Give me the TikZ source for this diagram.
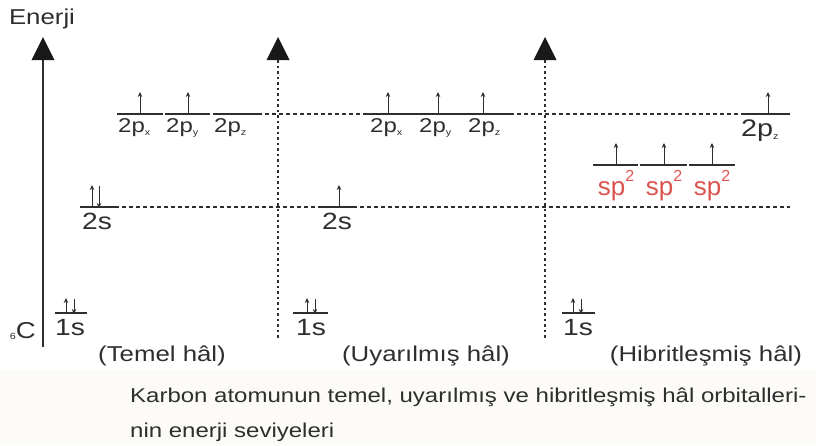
\documentclass[tikz,border=0pt]{standalone}
\usepackage{fontspec}
\setmainfont{Liberation Sans}[FakeStretch=1.2]
\newfontfamily\narrowsans{Liberation Sans}
\usetikzlibrary{arrows.meta}
\definecolor{ink}{HTML}{2E2E2E}
\definecolor{hyb}{HTML}{D9534F}
\definecolor{capbg}{HTML}{FCFBF8}
\newcommand{\fs}[1]{\fontsize{#1}{#1}\selectfont}
\newcommand{\psub}[1]{\raisebox{-3pt}{\fs{9}#1}}
\newcommand{\sptwo}{sp\raisebox{14pt}{\fs{16}2}}
\begin{document}
\begin{tikzpicture}[x=1pt,y=-1pt,
  lvl/.style={draw=ink,line width=1.5pt},
  spin/.style={draw=ink,line width=1pt,-{Stealth[length=5pt,width=4.5pt]}},
  hdash/.style={draw=ink,line width=1.2pt,dash pattern=on 4pt off 3pt},
  vdot/.style={draw=ink,line width=2.2pt,dash pattern=on 2.5pt off 3pt},
  axisline/.style={draw=ink,line width=2.2pt},
  tiphead/.style={fill=black!90},
  lab/.style={inner sep=0pt,text=ink},
  plab/.style={lab,anchor=base west,font=\fs{20}},
  slab/.style={lab,anchor=base,font=\fs{23.5}},
  hlab/.style={inner sep=0pt,anchor=base,text=hyb,font=\narrowsans\fs{26}},
  state/.style={lab,anchor=base,font=\fs{21.5}},
  captext/.style={lab,anchor=base west,font=\fs{20}}
]
\useasboundingbox (0,0) rectangle (816,445);
\fill[capbg] (0,370) rectangle (816,445);

% axes
\coordinate (a1t) at (43,60); \coordinate (a1b) at (43,347);
\coordinate (a2t) at (278,60); \coordinate (a2b) at (278,340);
\coordinate (a3t) at (545,60); \coordinate (a3b) at (545,340);
\draw[axisline] (a1t) -- (a1b);
\draw[vdot] (a2t) -- (a2b);
\draw[vdot] (a3t) -- (a3b);
\foreach \x in {43,278,545}{
  \fill[tiphead] (\x,37) -- (\x+11.5,60) -- (\x-11.5,60) -- cycle;
}

% dashed guide lines
\coordinate (d1a) at (258,114); \coordinate (d1b) at (743,114);
\coordinate (d2a) at (115,207); \coordinate (d2b) at (790,207);
\draw[hdash] (d1a) -- (d1b);
\draw[hdash] (d2a) -- (d2b);

% ---------- Temel hal ----------
\draw[lvl] (55,313) -- (87,313);
\draw[spin] (66,313) -- (66,298);
\draw[spin] (74,299) -- (74,314);
\node[slab] (t1s) at (70,335) {1s};

\draw[lvl] (80,207) -- (115,207);
\draw[spin] (92,207) -- (92,185);
\draw[spin] (99,186) -- (99,208);
\node[slab] (t2s) at (97,229) {2s};

\draw[lvl] (117,114) -- (163,114);
\draw[lvl] (165,114) -- (210,114);
\draw[lvl] (213,114) -- (258,114);
\draw[spin] (140,114) -- (140,92);
\draw[spin] (188,114) -- (188,92);
\node[plab] (t2px) at (118,132) {2p\psub{x}};
\node[plab] (t2py) at (166,132) {2p\psub{y}};
\node[plab] (t2pz) at (214,132) {2p\psub{z}};

% ---------- Uyarilmis hal ----------
\draw[lvl] (293,313) -- (328,313);
\draw[spin] (307,313) -- (307,298);
\draw[spin] (315,299) -- (315,314);
\node[slab] (u1s) at (311,335) {1s};

\draw[lvl] (320,207) -- (355,207);
\draw[spin] (339,207) -- (339,185);
\node[slab] (u2s) at (337,229) {2s};

\draw[lvl] (365,114) -- (412,114);
\draw[lvl] (416,114) -- (462,114);
\draw[lvl] (464,114) -- (510,114);
\draw[spin] (388,114) -- (388,92);
\draw[spin] (438,114) -- (438,92);
\draw[spin] (483,114) -- (483,92);
\node[plab] (u2px) at (370,132) {2p\psub{x}};
\node[plab] (u2py) at (419,132) {2p\psub{y}};
\node[plab] (u2pz) at (468,132) {2p\psub{z}};

% ---------- Hibritlesmis hal ----------
\draw[lvl] (562,313) -- (595,313);
\draw[spin] (573,313) -- (573,298);
\draw[spin] (581,299) -- (581,314);
\node[slab] (h1s) at (578,335) {1s};

\draw[lvl] (593,165) -- (638,165);
\draw[lvl] (640,165) -- (687,165);
\draw[lvl] (689,165) -- (735,165);
\draw[spin] (616,165) -- (616,143);
\draw[spin] (664,165) -- (664,143);
\draw[spin] (712,165) -- (712,143);
\node[hlab] (hsp1) at (616,195) {\sptwo};
\node[hlab] (hsp2) at (664,195) {\sptwo};
\node[hlab] (hsp3) at (712,195) {\sptwo};

\draw[lvl] (743,114) -- (790,114);
\draw[spin] (768,114) -- (768,92);
\node[lab,anchor=base west,font=\fs{24}] (h2pz) at (741,136) {2p\raisebox{-3pt}{\fs{9}z}};

% ---------- texts ----------
\node[lab,anchor=base,font=\fs{21.5}] (enerji) at (42,24) {Enerji};
\node[lab,anchor=base east,font=\fs{23}] (carbon) at (36,338) {\raisebox{-1pt}{\fs{9}6}C};
\node[state] (st1) at (162,361) {(Temel hâl)};
\node[state] (st2) at (426,361) {(Uyarılmış hâl)};
\node[state] (st3) at (706,361) {(Hibritleşmiş hâl)};
\node[captext] (cap1) at (130,402) {Karbon atomunun temel, uyarılmış ve hibritleşmiş hâl orbitalleri-};
\node[captext] (cap2) at (130,437) {nin enerji seviyeleri};
\end{tikzpicture}
\end{document}
